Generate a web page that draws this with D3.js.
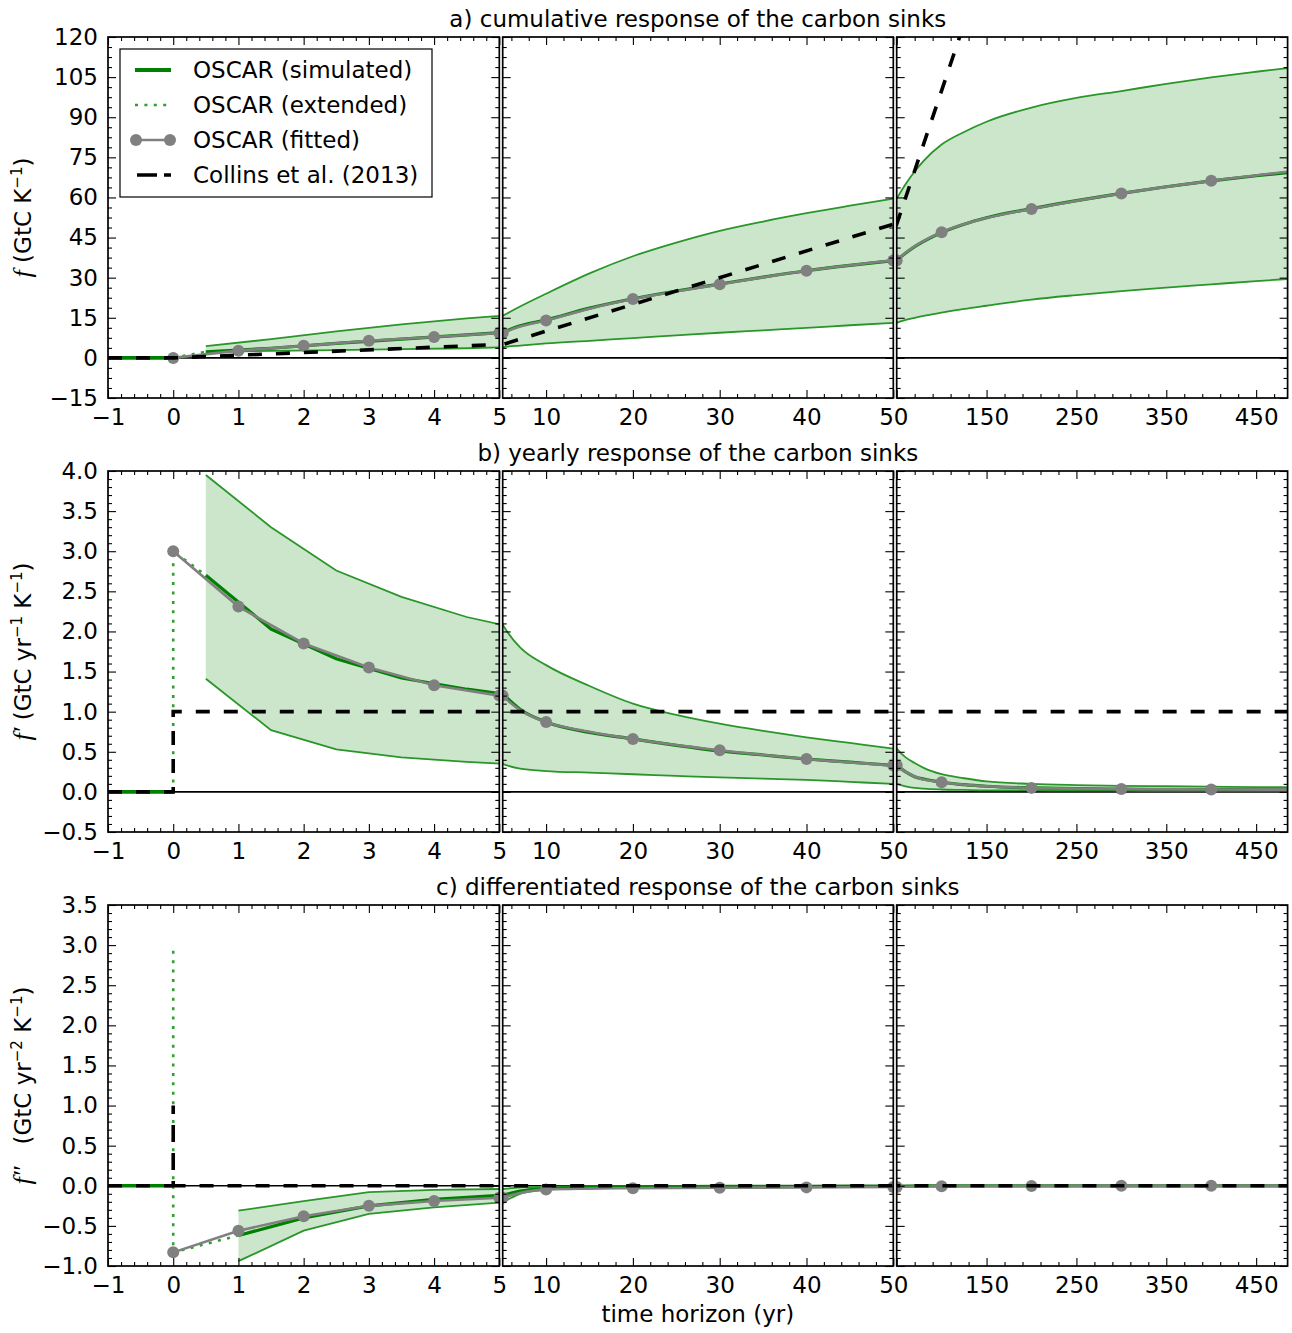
<!DOCTYPE html>
<html>
<head>
<meta charset="utf-8">
<script src="https://cdn.jsdelivr.net/npm/d3@7"></script>
<style>
  body { margin: 0; background: #fff; }
  svg { display: block; background: #fff; }
  svg text { font-family: "DejaVu Sans", "Bitstream Vera Sans", sans-serif; fill: #000; }
</style>
</head>
<body>
<svg id="fig" width="1292" height="1333"></svg>
<script>
// ---- simulated OSCAR response (half-year sampling for f and f') ----
const simT = [0.5, 1.5, 2.5, 3.5, 4.5, 5.5, 7, 10, 15, 20, 25, 30, 35, 40, 45, 50,
              60, 70, 80, 100, 125, 150, 200, 250, 300, 350, 400, 450, 485];

// a) cumulative response f (GtC/K)
const aLow  = [2.2, 2.6, 2.9, 3.3, 3.6, 4.2, 4.6, 5.4, 6.4, 7.4, 8.4, 9.4, 10.3, 11.2, 12.2, 13.1,
               14.2, 15.0, 15.7, 16.9, 18.3, 19.5, 21.8, 23.5, 25.0, 26.3, 27.5, 28.7, 29.5];
const aMean = [2.3, 3.6, 5.4, 7.0, 8.6, 10.2, 12.0, 14.2, 18.6, 22.1, 25.0, 27.6, 30.2, 32.6, 34.6, 36.4,
               39.2, 41.6, 43.6, 46.9, 50.0, 52.4, 55.8, 58.8, 61.5, 64.0, 66.2, 68.1, 69.3];
const aUp   = [4.4, 7.0, 9.9, 12.5, 14.8, 16.6, 19.2, 24.0, 31.6, 38.0, 43.1, 47.5, 51.0, 54.1, 56.9, 59.6,
               65.0, 69.7, 73.7, 79.8, 84.5, 88.3, 93.6, 97.2, 99.8, 102.5, 104.9, 107.0, 108.4];

// b) yearly response f' (GtC/yr/K)
const bLow  = [1.41, 0.77, 0.53, 0.43, 0.375, 0.33, 0.29, 0.26, 0.24, 0.22, 0.20, 0.18, 0.165, 0.15, 0.125, 0.10,
               0.07, 0.05, 0.04, 0.03, 0.025, 0.02, 0.018, 0.016, 0.015, 0.014, 0.013, 0.012, 0.012];
const bMean = [2.70, 2.03, 1.66, 1.42, 1.28, 1.17, 1.03, 0.87, 0.74, 0.66, 0.58, 0.51, 0.46, 0.41, 0.37, 0.33,
               0.25, 0.19, 0.16, 0.12, 0.09, 0.07, 0.05, 0.04, 0.035, 0.03, 0.03, 0.025, 0.025];
const bUp   = [3.95, 3.30, 2.76, 2.43, 2.18, 2.00, 1.80, 1.58, 1.32, 1.10, 0.96, 0.85, 0.76, 0.68, 0.61, 0.54,
               0.43, 0.36, 0.30, 0.22, 0.17, 0.13, 0.10, 0.085, 0.075, 0.07, 0.065, 0.06, 0.06];

// c) differentiated response f'' (GtC/yr2/K), yearly sampling
const simTc = [1, 2, 3, 4, 5, 6, 7, 8, 10, 15, 20, 30, 40, 50, 60, 80, 100, 150, 200, 300, 400, 485];
const cLow  = [-0.94, -0.56, -0.35, -0.27, -0.21, -0.15, -0.10, -0.075, -0.05, -0.03, -0.022,
               -0.014, -0.010, -0.008, -0.006, -0.004, -0.003, -0.002, -0.001, -0.001, -0.001, -0.001];
const cMean = [-0.62, -0.40, -0.25, -0.17, -0.12, -0.09, -0.065, -0.05, -0.035, -0.02, -0.014,
               -0.008, -0.006, -0.004, -0.003, -0.002, -0.001, -0.001, -0.0005, -0.0005, -0.0003, -0.0003];
const cUp   = [-0.31, -0.19, -0.08, -0.05, -0.04, -0.03, -0.02, -0.016, -0.01, -0.006, -0.004,
               -0.002, -0.001, 0, 0, 0, 0, 0, 0, 0, 0, 0];

// simulated response before the pulse (zero)
const preT = [-1, 0];
const preV = [0, 0];

// extended OSCAR response (dotted), [t, value]
const extA = [[0, 0], [0.5, 2.3]];
const extB = [[0, 0], [0, 3.0], [0.5, 2.7]];
const extC = [[0, 2.93], [0, -0.83], [1, -0.62]];

// fitted OSCAR response
const fitT = [0, 1, 2, 3, 4, 5, 7, 10, 15, 20, 30, 40, 50, 60, 75, 100, 150, 200, 300, 400, 485];
const markT = [0, 1, 2, 3, 4, 5, 10, 20, 30, 40, 50, 100, 200, 300, 400];
const aFit = [0, 2.7, 4.5, 6.4, 7.8, 9.3, 11.7, 14.0, 18.4, 22.0, 27.5, 32.6, 36.4, 39.3, 42.8,
              47.0, 52.3, 55.7, 61.5, 66.2, 69.6];
const bFit = [3.0, 2.31, 1.85, 1.55, 1.33, 1.20, 1.02, 0.87, 0.75, 0.66, 0.52, 0.41, 0.33, 0.25, 0.17,
              0.12, 0.07, 0.05, 0.035, 0.03, 0.028];
const cFit = [-0.83, -0.56, -0.38, -0.25, -0.19, -0.15, -0.09, -0.045, -0.035, -0.03, -0.025, -0.02,
              -0.015, -0.012, -0.008, -0.005, -0.003, -0.002, -0.001, -0.001, -0.001];

// Collins et al. (2013) response, [t, value]
const collinsA = [[-1, 0], [0, 0], [485, 485]];
const collinsB = [[-1, 0], [0, 0], [0, 1], [485, 1]];
const collinsC = [[-1, 0], [0, 0], [0, 1], [0, 0], [485, 0]];

// axis ticks
const xMajor = [[-1, 0, 1, 2, 3, 4, 5], [10, 20, 30, 40, 50], [50, 150, 250, 350, 450]];
const xLabels = [[-1, 0, 1, 2, 3, 4, 5], [10, 20, 30, 40, 50], [150, 250, 350, 450]];
const yMajorA = [-15, 0, 15, 30, 45, 60, 75, 90, 105, 120];
const yMajorBC = [-1.0, -0.5, 0.0, 0.5, 1.0, 1.5, 2.0, 2.5, 3.0, 3.5, 4.0];

const titles = ["a) cumulative response of the carbon sinks",
                "b) yearly response of the carbon sinks",
                "c) differentiated response of the carbon sinks"];
const legendLabels = ["OSCAR (simulated)", "OSCAR (extended)", "OSCAR (fitted)", "Collins et al. (2013)"];

// ---- layout ----
const FS = 23;
const cols = [
  { x0: 108, x1: 499.3, domain: [-1, 5], minorStep: 0.2, minorFrom: -1 },
  { x0: 502.7, x1: 893.3, domain: [5, 50], minorStep: 2, minorFrom: 6 },
  { x0: 896.7, x1: 1287.6, domain: [50, 485], minorStep: 20, minorFrom: 50 }
];
const rows = [
  { key: "a", y0: 37, y1: 398, domain: [-15, 120], major: yMajorA, minorStep: 3.75, fmt: d3.format("d"),
    low: aLow, mean: aMean, up: aUp, t: simT, ext: extA, fit: aFit, collins: collinsA },
  { key: "b", y0: 471, y1: 832, domain: [-0.5, 4.0], major: yMajorBC, minorStep: 0.1, fmt: d3.format(".1f"),
    low: bLow, mean: bMean, up: bUp, t: simT, ext: extB, fit: bFit, collins: collinsB },
  { key: "c", y0: 905, y1: 1266, domain: [-1.0, 3.5], major: yMajorBC, minorStep: 0.1, fmt: d3.format(".1f"),
    low: cLow, mean: cMean, up: cUp, t: simTc, ext: extC, fit: cFit, collins: collinsC }
];

const C = {
  fill: "#008000", edge: "#2a962a", mean: "#008000", ext: "#2f9f2f", fit: "#808080", collins: "#000"
};

const svg = d3.select("#fig");
const eps = 1e-6;
const near = (v, arr) => arr.some(a => Math.abs(a - v) < eps);

function minorTicks(domain, from, step, major) {
  const out = [];
  for (let k = 0; ; k++) {
    const v = +(from + k * step).toFixed(6);
    if (v > domain[1] + eps) break;
    if (v >= domain[0] - eps && !near(v, major)) out.push(v);
  }
  return out;
}

function styleAxis(g) {
  g.attr("font-size", FS).attr("font-family", null);
  g.select(".domain").remove();
  g.selectAll(".tick line").attr("stroke", "#000").attr("stroke-width", 1.1);
}

rows.forEach(row => {
  const y = d3.scaleLinear().domain(row.domain).range([row.y1, row.y0]);
  const yMajor = row.major.filter(v => v >= row.domain[0] - eps && v <= row.domain[1] + eps);
  const yMinor = minorTicks(row.domain, row.domain[0], row.minorStep, yMajor);

  cols.forEach((c, ci) => {
    const x = d3.scaleLinear().domain(c.domain).range([c.x0, c.x1]);
    const curve = ci === 0 ? d3.curveLinear : d3.curveMonotoneX;
    const clipId = `clip-${row.key}-${ci}`;
    svg.append("clipPath").attr("id", clipId).append("rect")
      .attr("x", c.x0).attr("y", row.y0).attr("width", c.x1 - c.x0).attr("height", row.y1 - row.y0);
    const g = svg.append("g").attr("clip-path", `url(#${clipId})`);

    // zero line
    g.append("line").attr("x1", c.x0).attr("x2", c.x1).attr("y1", y(0)).attr("y2", y(0))
      .attr("stroke", "#000").attr("stroke-width", 1.6);

    // spread of the simulations
    const sim = row.t.map((t, i) => ({ t, lo: row.low[i], mid: row.mean[i], hi: row.up[i] }));
    g.append("path").datum(sim)
      .attr("d", d3.area().x(d => x(d.t)).y0(d => y(d.lo)).y1(d => y(d.hi)).curve(curve))
      .attr("fill", C.fill).attr("fill-opacity", 0.2).attr("stroke", "none");
    ["lo", "hi"].forEach(k => {
      g.append("path").datum(sim)
        .attr("d", d3.line().x(d => x(d.t)).y(d => y(d[k])).curve(curve))
        .attr("fill", "none").attr("stroke", C.edge).attr("stroke-width", 1.8);
    });

    // simulated mean, and the flat part before the pulse
    g.append("path").datum(sim)
      .attr("d", d3.line().x(d => x(d.t)).y(d => y(d.mid)).curve(curve))
      .attr("fill", "none").attr("stroke", C.mean).attr("stroke-width", 3.2);
    g.append("path").datum(preT.map((t, i) => [t, preV[i]]))
      .attr("d", d3.line().x(d => x(d[0])).y(d => y(d[1])))
      .attr("fill", "none").attr("stroke", C.mean).attr("stroke-width", 3.6);

    // extended response
    g.append("path").datum(row.ext)
      .attr("d", d3.line().x(d => x(d[0])).y(d => y(d[1])))
      .attr("fill", "none").attr("stroke", C.ext).attr("stroke-width", 2.6)
      .attr("stroke-dasharray", "3,6.4");

    // fitted response
    const fit = fitT.map((t, i) => ({ t, v: row.fit[i] }));
    g.append("path").datum(fit)
      .attr("d", d3.line().x(d => x(d.t)).y(d => y(d.v)).curve(curve))
      .attr("fill", "none").attr("stroke", C.fit).attr("stroke-width", 2.6);
    g.selectAll("circle.fit").data(fit.filter(d => near(d.t, markT))).join("circle")
      .attr("class", "fit").attr("cx", d => x(d.t)).attr("cy", d => y(d.v)).attr("r", 6)
      .attr("fill", C.fit);

    // Collins et al. (2013)
    g.append("path").datum(row.collins)
      .attr("d", d3.line().x(d => x(d[0])).y(d => y(d[1])))
      .attr("fill", "none").attr("stroke", C.collins).attr("stroke-width", 3.6)
      .attr("stroke-dasharray", "14,14");

    // ---- axes: inward ticks on all four sides ----
    const xMin = minorTicks(c.domain, c.minorFrom, c.minorStep, xMajor[ci]);
    const labs = xLabels[ci];
    svg.append("g").attr("transform", `translate(0,${row.y1})`)
      .call(d3.axisBottom(x).tickValues(xMajor[ci]).tickSizeInner(-8).tickSizeOuter(0).tickPadding(11)
        .tickFormat(v => near(v, labs) ? d3.format("d")(v) : ""))
      .call(styleAxis);
    svg.append("g").attr("transform", `translate(0,${row.y1})`)
      .call(d3.axisBottom(x).tickValues(xMin).tickSizeInner(-4).tickSizeOuter(0).tickFormat(""))
      .call(styleAxis);
    svg.append("g").attr("transform", `translate(0,${row.y0})`)
      .call(d3.axisTop(x).tickValues(xMajor[ci]).tickSizeInner(-8).tickSizeOuter(0).tickFormat(""))
      .call(styleAxis);
    svg.append("g").attr("transform", `translate(0,${row.y0})`)
      .call(d3.axisTop(x).tickValues(xMin).tickSizeInner(-4).tickSizeOuter(0).tickFormat(""))
      .call(styleAxis);

    svg.append("g").attr("transform", `translate(${c.x0},0)`)
      .call(d3.axisLeft(y).tickValues(yMajor).tickSizeInner(-8).tickSizeOuter(0).tickPadding(10)
        .tickFormat(v => ci === 0 ? row.fmt(v) : ""))
      .call(styleAxis);
    svg.append("g").attr("transform", `translate(${c.x0},0)`)
      .call(d3.axisLeft(y).tickValues(yMinor).tickSizeInner(-4).tickSizeOuter(0).tickFormat(""))
      .call(styleAxis);
    svg.append("g").attr("transform", `translate(${c.x1},0)`)
      .call(d3.axisRight(y).tickValues(yMajor).tickSizeInner(-8).tickSizeOuter(0).tickFormat(""))
      .call(styleAxis);
    svg.append("g").attr("transform", `translate(${c.x1},0)`)
      .call(d3.axisRight(y).tickValues(yMinor).tickSizeInner(-4).tickSizeOuter(0).tickFormat(""))
      .call(styleAxis);

    // frame
    svg.append("rect").attr("x", c.x0).attr("y", row.y0)
      .attr("width", c.x1 - c.x0).attr("height", row.y1 - row.y0)
      .attr("fill", "none").attr("stroke", "#000").attr("stroke-width", 1.7);
  });
});

// ---- titles ----
const xMid = (cols[0].x0 + cols[2].x1) / 2;
rows.forEach((row, i) => {
  svg.append("text").attr("x", xMid).attr("y", row.y0 - 10)
    .attr("text-anchor", "middle").attr("font-size", FS).text(titles[i]);
});
svg.append("text").attr("x", xMid).attr("y", 1322)
  .attr("text-anchor", "middle").attr("font-size", FS).text("time horizon (yr)");

// ---- y labels ----
function yLabel(row, parts) {
  const t = svg.append("text")
    .attr("transform", `translate(31,${(row.y0 + row.y1) / 2}) rotate(-90)`)
    .attr("text-anchor", "middle").attr("font-size", FS)
    .attr("xml:space", "preserve");
  parts.forEach(p => {
    const s = t.append("tspan").text(p.s);
    if (p.math) s.style("font-family", '"Liberation Serif", "DejaVu Serif", serif')
      .attr("font-style", "italic").attr("font-size", 26);
    if (p.sup) s.attr("font-size", 15).attr("dy", -9);
    if (p.after) s.attr("dy", 9);
  });
}
yLabel(rows[0], [{ s: "f", math: true }, { s: " (GtC K" }, { s: "\u22121", sup: true }, { s: ")", after: true }]);
yLabel(rows[1], [{ s: "f\u2032", math: true }, { s: " (GtC yr" }, { s: "\u22121", sup: true },
                 { s: " K", after: true }, { s: "\u22121", sup: true }, { s: ")", after: true }]);
yLabel(rows[2], [{ s: "f\u2033", math: true }, { s: "   (GtC yr" }, { s: "\u22122", sup: true },
                 { s: " K", after: true }, { s: "\u22121", sup: true }, { s: ")", after: true }]);

// ---- legend ----
const lg = svg.append("g");
lg.append("rect").attr("x", 120).attr("y", 49).attr("width", 312).attr("height", 148)
  .attr("fill", "#fff").attr("stroke", "#000").attr("stroke-width", 1.2);
const hx0 = 135, hx1 = 171;
legendLabels.forEach((lab, i) => {
  const cy = 70 + i * 35;
  lg.append("text").attr("x", 193).attr("y", cy + 8).attr("font-size", FS).text(lab);
});
const ly = i => 70 + i * 35;
lg.append("line").attr("x1", hx0).attr("x2", hx1).attr("y1", ly(0)).attr("y2", ly(0))
  .attr("stroke", C.mean).attr("stroke-width", 3.8);
lg.append("line").attr("x1", hx0).attr("x2", hx1).attr("y1", ly(1)).attr("y2", ly(1))
  .attr("stroke", C.ext).attr("stroke-width", 2.6).attr("stroke-dasharray", "3,6.4");
lg.append("line").attr("x1", hx0 + 1).attr("x2", hx1 - 1).attr("y1", ly(2)).attr("y2", ly(2))
  .attr("stroke", C.fit).attr("stroke-width", 2.6);
lg.selectAll("circle.lgm").data([hx0 + 1, hx1 - 1]).join("circle")
  .attr("class", "lgm").attr("cx", d => d).attr("cy", ly(2)).attr("r", 6).attr("fill", C.fit);
lg.append("line").attr("x1", hx0 + 2).attr("x2", hx1).attr("y1", ly(3)).attr("y2", ly(3))
  .attr("stroke", C.collins).attr("stroke-width", 3.6).attr("stroke-dasharray", "20,7");
</script>
</body>
</html>
